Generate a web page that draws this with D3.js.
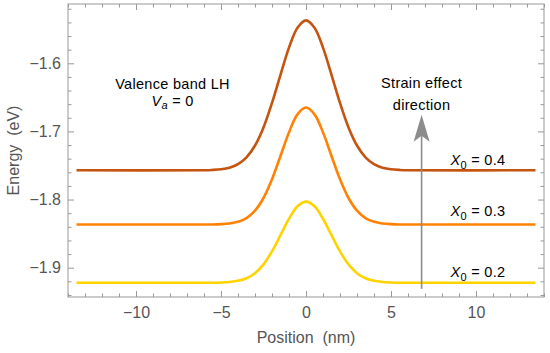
<!DOCTYPE html>
<html>
<head>
<meta charset="utf-8">
<script src="https://cdn.jsdelivr.net/npm/d3@7/dist/d3.min.js"></script>
<style>
  body { margin: 0; background: #fff; }
  text { font-family: "Liberation Sans", Arial, sans-serif; }
</style>
</head>
<body>
<div id="chart"></div>
<script>
// positions (nm)
var xs = [-13.5, -6, -5.5, -5, -4.5, -4, -3.5, -3, -2.5, -2, -1.5, -1, -0.5, 0,
  0.5, 1, 1.5, 2, 2.5, 3, 3.5, 4, 4.5, 5, 5.5, 6, 13.5];

// energies (eV)
var x04 = [-1.757, -1.757, -1.7565, -1.7555, -1.7532, -1.7481, -1.7381, -1.7207, -1.6941, -1.6582, -1.6169, -1.577, -1.5478, -1.537,
  -1.5478, -1.577, -1.6169, -1.6582, -1.6941, -1.7207, -1.7381, -1.7481, -1.7532, -1.7555, -1.7565, -1.757, -1.757];
var x03 = [-1.8365, -1.8365, -1.8365, -1.8361, -1.8351, -1.8327, -1.8272, -1.8163, -1.7977, -1.7703, -1.736, -1.7014, -1.6749, -1.665,
  -1.6749, -1.7014, -1.736, -1.7703, -1.7977, -1.8163, -1.8272, -1.8327, -1.8351, -1.8361, -1.8365, -1.8365, -1.8365];
var x02 = [-1.922, -1.922, -1.922, -1.9217, -1.921, -1.9193, -1.9155, -1.908, -1.8951, -1.8761, -1.8523, -1.8282, -1.8099, -1.803,
  -1.8099, -1.8282, -1.8523, -1.8761, -1.8951, -1.908, -1.9155, -1.9193, -1.921, -1.9217, -1.922, -1.922, -1.922];

var seriesNames = ["0.4", "0.3", "0.2"];
var seriesColors = ["#c4540f", "#ff8205", "#fdd300"];

var xTicks = [-10, -5, 0, 5, 10];
var yTicks = [-1.9, -1.8, -1.7, -1.6];

var width = 550, height = 353;
var margin = {top: 4, right: 6, bottom: 56, left: 68};

var svg = d3.select('#chart').append('svg')
  .attr('width', width)
  .attr('height', height);

var x = d3.scaleLinear().domain([-14, 14]).range([margin.left, width - margin.right]);
var y = d3.scaleLinear().domain([-1.943, -1.513]).range([height - margin.bottom, margin.top]);

var fmt = function (d) { return d3.format('.1f')(d).replace('-', '\u2212'); };
var fmtx = function (d) { return String(d).replace('-', '\u2212'); };

var xMinor = d3.range(-14, 15, 1).filter(function (d) { return d % 5 !== 0; });
var yMinor = d3.range(-1.94, -1.51, 0.02).filter(function (d) { return Math.abs(Math.round(d * 10) - d * 10) > 0.01; });

function styleAxis(g) {
  g.select('.domain').remove();
  g.selectAll('line').attr('stroke', '#999').attr('stroke-width', 1);
  g.selectAll('text').attr('fill', '#555').style('font-size', '16px');
}

var bottomY = height - margin.bottom, rightX = width - margin.right;

// bottom
svg.append('g').attr('transform', 'translate(0,' + bottomY + ')')
  .call(d3.axisBottom(x).tickValues(xTicks).tickSize(-6).tickPadding(10).tickFormat(fmtx))
  .call(styleAxis);
svg.append('g').attr('transform', 'translate(0,' + bottomY + ')')
  .call(d3.axisBottom(x).tickValues(xMinor).tickSize(-3.5).tickFormat(''))
  .call(styleAxis);
// top
svg.append('g').attr('transform', 'translate(0,' + margin.top + ')')
  .call(d3.axisTop(x).tickValues(xTicks).tickSize(-6).tickFormat(''))
  .call(styleAxis);
svg.append('g').attr('transform', 'translate(0,' + margin.top + ')')
  .call(d3.axisTop(x).tickValues(xMinor).tickSize(-3.5).tickFormat(''))
  .call(styleAxis);
// left
svg.append('g').attr('transform', 'translate(' + margin.left + ',0)')
  .call(d3.axisLeft(y).tickValues(yTicks).tickSize(-6).tickPadding(7).tickFormat(fmt))
  .call(styleAxis);
svg.append('g').attr('transform', 'translate(' + margin.left + ',0)')
  .call(d3.axisLeft(y).tickValues(yMinor).tickSize(-3.5).tickFormat(''))
  .call(styleAxis);
// right
svg.append('g').attr('transform', 'translate(' + rightX + ',0)')
  .call(d3.axisRight(y).tickValues(yTicks).tickSize(-6).tickFormat(''))
  .call(styleAxis);
svg.append('g').attr('transform', 'translate(' + rightX + ',0)')
  .call(d3.axisRight(y).tickValues(yMinor).tickSize(-3.5).tickFormat(''))
  .call(styleAxis);

// frame
svg.append('rect')
  .attr('x', margin.left).attr('y', margin.top)
  .attr('width', rightX - margin.left).attr('height', bottomY - margin.top)
  .attr('fill', 'none').attr('stroke', '#999').attr('stroke-width', 1);

// axis titles
svg.append('text')
  .attr('x', (margin.left + rightX) / 2).attr('y', 343)
  .attr('text-anchor', 'middle').attr('fill', '#555').style('font-size', '16px')
  .attr('xml:space', 'preserve')
  .text('Position  (nm)');
svg.append('text')
  .attr('transform', 'translate(19,' + ((margin.top + bottomY) / 2) + ') rotate(-90)')
  .attr('text-anchor', 'middle').attr('fill', '#555').style('font-size', '16px')
  .attr('xml:space', 'preserve')
  .text('Energy  (eV)');

// curves
var line = d3.line()
  .x(function (d) { return x(d[0]); })
  .y(function (d) { return y(d[1]); })
  .curve(d3.curveCatmullRom.alpha(0.5));

[x04, x03, x02].forEach(function (vals, i) {
  svg.append('path')
    .datum(xs.map(function (v, j) { return [v, vals[j]]; }))
    .attr('d', line)
    .attr('fill', 'none')
    .attr('stroke', seriesColors[i])
    .attr('stroke-width', 2.6);
});

// arrow
var arrowX = 6.8, arrowY0 = -1.931, arrowY1 = -1.6755;
var ax = x(arrowX), ay1 = y(arrowY1);
svg.append('line')
  .attr('x1', ax).attr('x2', ax)
  .attr('y1', y(arrowY0)).attr('y2', ay1 + 20)
  .attr('stroke', '#8c8c8c').attr('stroke-width', 1.6);
svg.append('path')
  .attr('d', 'M' + ax + ',' + ay1 + 'L' + (ax + 8) + ',' + (ay1 + 27) +
    'L' + ax + ',' + (ay1 + 21) + 'L' + (ax - 8) + ',' + (ay1 + 27) + 'Z')
  .attr('fill', '#8c8c8c');

// annotations
var note = svg.append('g').style('font-size', '14.5px').style('letter-spacing', '0.3px').attr('fill', '#000');
note.append('text').attr('x', x(-7.85)).attr('y', y(-1.6375))
  .attr('text-anchor', 'middle').text('Valence band LH');
var va = note.append('text').attr('x', x(-7.85)).attr('y', y(-1.662)).attr('text-anchor', 'middle');
va.append('tspan').style('font-style', 'italic').text('V');
va.append('tspan').style('font-style', 'italic').style('font-size', '11px').attr('dy', 3).text('a');
va.append('tspan').attr('dy', -3).text(' = 0');

note.append('text').attr('x', x(6.8)).attr('y', y(-1.636))
  .attr('text-anchor', 'middle').text('Strain effect');
note.append('text').attr('x', x(6.8)).attr('y', y(-1.669))
  .attr('text-anchor', 'middle').text('direction');

var labelY = [-1.750, -1.824, -1.913];
seriesNames.forEach(function (n, i) {
  var t = note.append('text').attr('x', x(8.5)).attr('y', y(labelY[i]));
  t.append('tspan').style('font-style', 'italic').text('X');
  t.append('tspan').style('font-size', '11px').attr('dy', 4).text('0');
  t.append('tspan').attr('dy', -4).text(' = ' + n);
});
</script>
</body>
</html>
